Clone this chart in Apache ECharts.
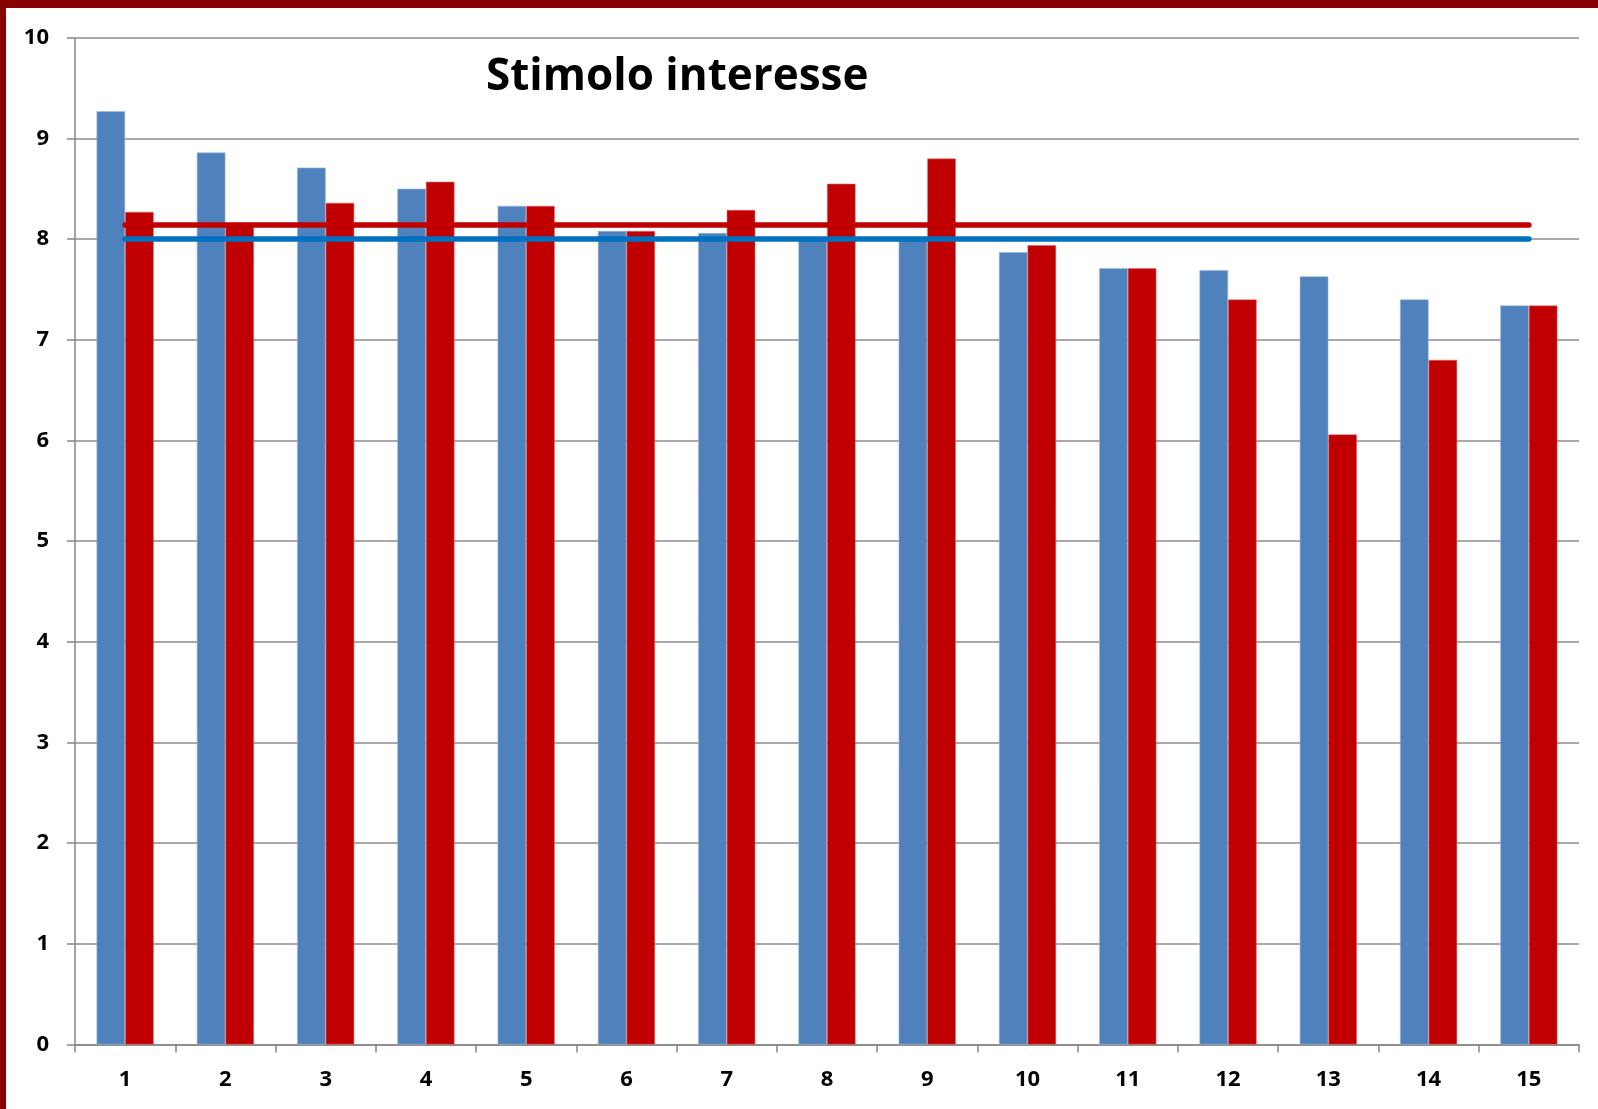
<!DOCTYPE html>
<html>
<head>
<meta charset="utf-8">
<script src="https://cdn.jsdelivr.net/npm/echarts@6/dist/echarts.min.js"></script>
<style>
html,body{margin:0;padding:0;background:#fff;}
#chart{width:1598px;height:1109px;}
</style>
</head>
<body>
<div id="chart"></div>
<script>
const categories = ['1','2','3','4','5','6','7','8','9','10','11','12','13','14','15'];
const blueValues = [9.27, 8.86, 8.71, 8.50, 8.33, 8.08, 8.06, 8.00, 8.00, 7.87, 7.71, 7.69, 7.63, 7.40, 7.34];
const redValues  = [8.27, 8.14, 8.36, 8.57, 8.33, 8.08, 8.29, 8.55, 8.80, 7.94, 7.71, 7.40, 6.06, 6.80, 7.34];
const redMean  = [8.14, 8.14, 8.14, 8.14, 8.14, 8.14, 8.14, 8.14, 8.14, 8.14, 8.14, 8.14, 8.14, 8.14, 8.14];
const blueMean = [8.00, 8.00, 8.00, 8.00, 8.00, 8.00, 8.00, 8.00, 8.00, 8.00, 8.00, 8.00, 8.00, 8.00, 8.00];
const yTicks = { min: 0, max: 10, interval: 1 };
const titleText = 'Stimolo interesse';

const chart = echarts.init(document.getElementById('chart'));
const labelFont = { color: '#000', fontWeight: 'bold', fontSize: 22, fontFamily: '"Open Sans", Lato, sans-serif' };
chart.setOption({
  animation: false,
  backgroundColor: '#fff',
  title: {
    text: titleText,
    left: 481,
    top: 50,
    textStyle: { color: '#000', fontWeight: 'bold', fontSize: 44, fontFamily: '"Open Sans", Lato, sans-serif' }
  },
  graphic: [
    { type: 'rect', left: 0, top: 0, shape: { width: 1598, height: 8 }, style: { fill: '#880000' }, z: 100 },
    { type: 'rect', left: 0, top: 0, shape: { width: 6, height: 1109 }, style: { fill: '#880000' }, z: 100 }
  ],
  grid: { left: 75, right: 19, top: 37.7, bottom: 64.4, containLabel: false },
  xAxis: {
    type: 'category',
    data: categories,
    axisLine: { lineStyle: { color: '#868686', width: 1.5 } },
    axisTick: { show: true, length: 8, lineStyle: { color: '#868686', width: 1.5 } },
    axisLabel: Object.assign({ margin: 24, interval: 0 }, labelFont)
  },
  yAxis: {
    type: 'value',
    min: yTicks.min, max: yTicks.max, interval: yTicks.interval,
    axisLine: { show: true, lineStyle: { color: '#868686', width: 1.5 } },
    axisTick: { show: true, length: 8, lineStyle: { color: '#868686', width: 1.5 } },
    splitLine: { lineStyle: { color: '#8c8c8c', width: 1.5 } },
    axisLabel: Object.assign({ margin: 26 }, labelFont)
  },
  series: [
    { type: 'bar', data: blueValues, barGap: '0%', barCategoryGap: '43%',
      itemStyle: { color: '#4F81BD', borderColor: '#9db7dc', borderWidth: 0.6 } },
    { type: 'bar', data: redValues,
      itemStyle: { color: '#C00000', borderColor: '#e07070', borderWidth: 0.6 } },
    { type: 'line', data: redMean, symbol: 'none', z: 5,
      lineStyle: { color: '#C00000', width: 5.5, cap: 'round' } },
    { type: 'line', data: blueMean, symbol: 'none', z: 5,
      lineStyle: { color: '#0070C0', width: 5.5, cap: 'round' } }
  ]
});
</script>
</body>
</html>
